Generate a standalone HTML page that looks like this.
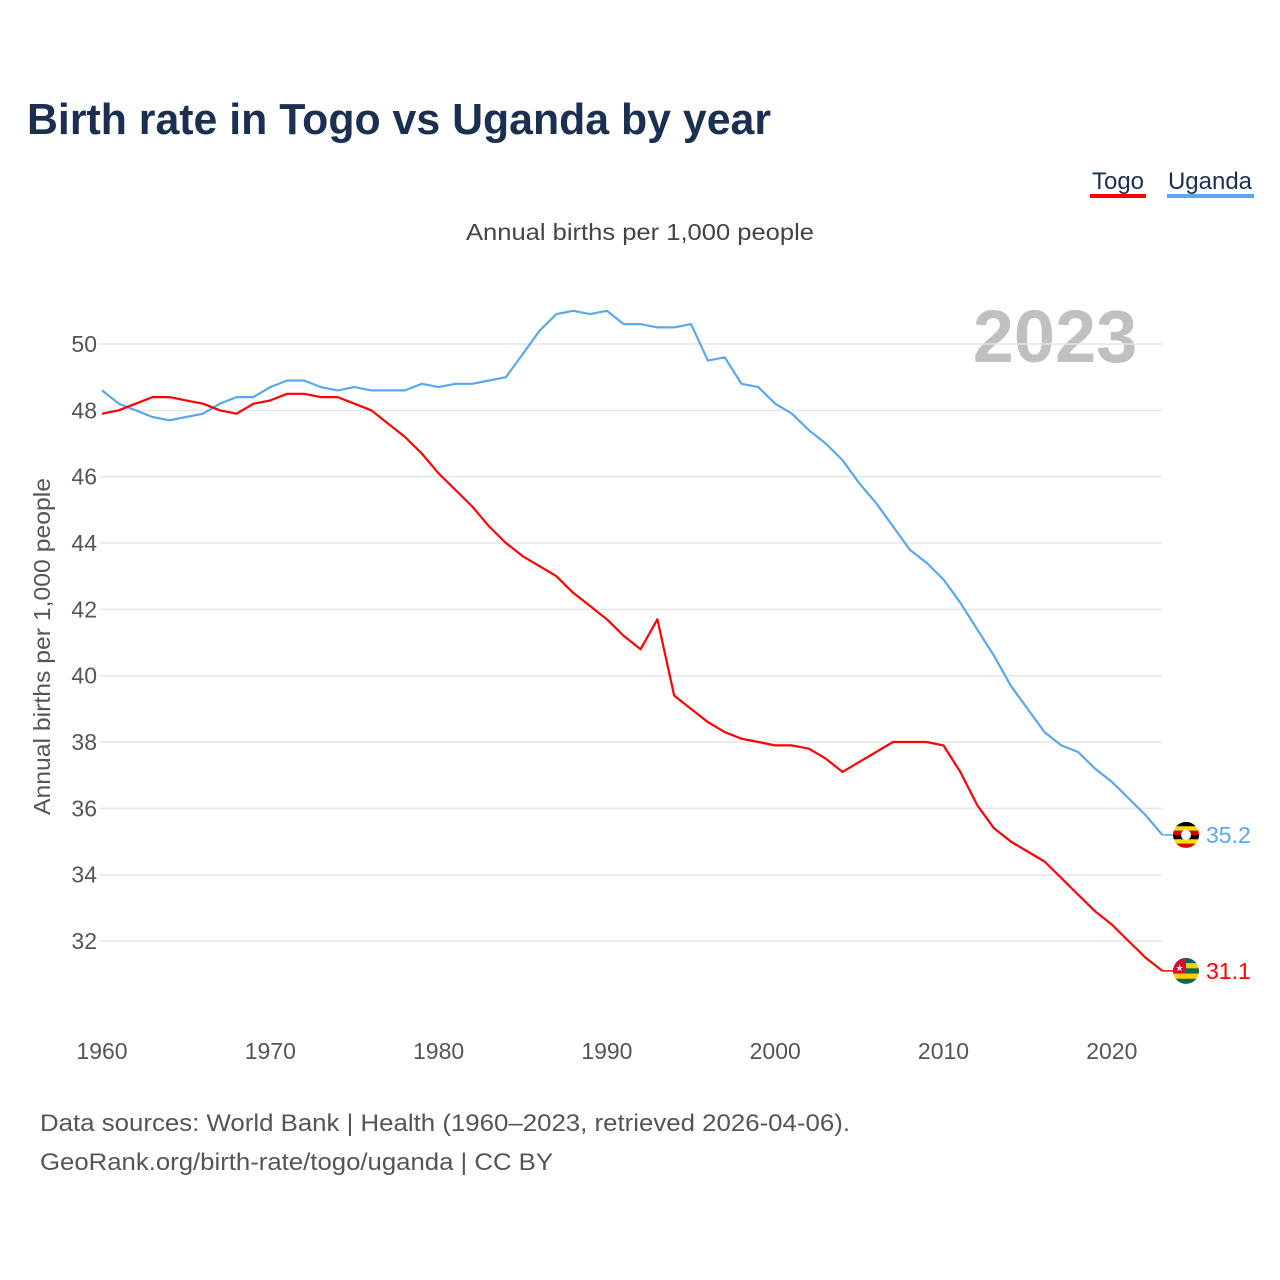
<!DOCTYPE html>
<html><head><meta charset="utf-8">
<style>
body{margin:0;background:#fff;font-family:"Liberation Sans",sans-serif;}
#wrap{position:relative;width:1280px;height:1280px;overflow:hidden;}
</style></head>
<body>
<div id="wrap">
<svg id="chart" width="1280" height="1280">
<text x="27" y="134" font-size="44" font-weight="bold" fill="#1b3050" textLength="744" lengthAdjust="spacingAndGlyphs">Birth rate in Togo vs Uganda by year</text>
<g>
<text x="1118" y="189" font-size="24" fill="#1b3050" text-anchor="middle">Togo</text>
<rect x="1090" y="194" width="56" height="4" fill="#ff0000"/>
<text x="1210" y="189" font-size="24" fill="#1b3050" text-anchor="middle">Uganda</text>
<rect x="1167" y="194" width="87" height="4" fill="#5ba7ee"/>
</g>
<text x="466" y="240" font-size="23" fill="#444" textLength="348" lengthAdjust="spacingAndGlyphs">Annual births per 1,000 people</text>
<text x="1055" y="362" font-size="74" font-weight="bold" fill="#c0c0c0" text-anchor="middle">2023</text>
<text transform="translate(50,815) rotate(-90)" font-size="23" fill="#555" textLength="337" lengthAdjust="spacingAndGlyphs">Annual births per 1,000 people</text>
<g id="grid"></g><g id="lines"></g><g id="ends"></g>
<text x="40" y="1131" font-size="24" fill="#555" textLength="810" lengthAdjust="spacingAndGlyphs">Data sources: World Bank | Health (1960–2023, retrieved 2026-04-06).</text>
<text x="40" y="1170" font-size="24" fill="#555" textLength="513" lengthAdjust="spacingAndGlyphs">GeoRank.org/birth-rate/togo/uganda | CC BY</text>
</svg>
</div>
<script>
const years=[];for(let y=1960;y<=2023;y++)years.push(y);
const togo=[47.9,48.0,48.2,48.4,48.4,48.3,48.2,48.0,47.9,48.2,48.3,48.5,48.5,48.4,48.4,48.2,48.0,47.6,47.2,46.7,46.1,45.6,45.1,44.5,44.0,43.6,43.3,43.0,42.5,42.1,41.7,41.2,40.8,41.7,39.4,39.0,38.6,38.3,38.1,38.0,37.9,37.9,37.8,37.5,37.1,37.4,37.7,38.0,38.0,38.0,37.9,37.1,36.1,35.4,35.0,34.7,34.4,33.9,33.4,32.9,32.5,32.0,31.5,31.1];
const uganda=[48.6,48.2,48.0,47.8,47.7,47.8,47.9,48.2,48.4,48.4,48.7,48.9,48.9,48.7,48.6,48.7,48.6,48.6,48.6,48.8,48.7,48.8,48.8,48.9,49.0,49.7,50.4,50.9,51.0,50.9,51.0,50.6,50.6,50.5,50.5,50.6,49.5,49.6,48.8,48.7,48.2,47.9,47.4,47.0,46.5,45.8,45.2,44.5,43.8,43.4,42.9,42.2,41.4,40.6,39.7,39.0,38.3,37.9,37.7,37.2,36.8,36.3,35.8,35.2];
const yTicks=[32,34,36,38,40,42,44,46,48,50];
const xTicks=[1960,1970,1980,1990,2000,2010,2020];
const X=y=>102+(y-1960)*16.83;
const Y=v=>344+(50-v)*33.17;
const NS="http://www.w3.org/2000/svg";
function mk(tag,attrs,parent,txt){const e=document.createElementNS(NS,tag);for(const k in attrs)e.setAttribute(k,attrs[k]);if(txt!==undefined)e.textContent=txt;parent.appendChild(e);return e;}
const grid=document.getElementById('grid'),lines=document.getElementById('lines'),ends=document.getElementById('ends');
yTicks.forEach(v=>{
 const l=mk('line',{x1:100,x2:1162,y1:Y(v),y2:Y(v),stroke:'#e6e6e6','stroke-width':1.5},grid);
 
 
 const t=mk('text',{x:97,y:Y(v)+8,'font-size':23,fill:'#555','text-anchor':'end'},grid,String(v));
 
 
});
xTicks.forEach(yr=>{
 const t=mk('text',{x:X(yr),y:1059,'font-size':23,fill:'#555','text-anchor':'middle'},grid,String(yr));
 
 
});
function series(vals,color,name){
 const d=vals.map((v,i)=>(i?'L':'M')+X(years[i]).toFixed(1)+' '+Y(v).toFixed(1)).join(' ');
 const p=mk('path',{d:d,fill:'none',stroke:color,'stroke-width':2.2,'stroke-linejoin':'round'},lines);
 
 
 const last=vals[vals.length-1],ly=Y(last);
 mk('line',{x1:X(2023),x2:1174,y1:ly,y2:ly,stroke:color,'stroke-width':1.5},ends);
 const g=mk('g',{},ends);
 
 
 const cp=mk('clipPath',{id:'c'+name},g);mk('circle',{cx:1186,cy:ly,r:13},cp);
 const cols=name==='uganda'?['#000','#fcdc04','#d90000','#000','#fcdc04','#d90000']:['#006a4e','#ffce00','#006a4e','#ffce00','#006a4e'];
 const h=26/cols.length;
 cols.forEach((c,i)=>mk('rect',{x:1173,y:ly-13+i*h,width:26,height:h+0.5,fill:c,'clip-path':'url(#c'+name+')'},g));
 if(name==='uganda')mk('circle',{cx:1186,cy:ly,r:5,fill:'#fff'},g);
 else{mk('rect',{x:1173,y:ly-13,width:13,height:15.6,fill:'#d21034','clip-path':'url(#c'+name+')'},g);mk('text',{x:1179.5,y:ly+0,'font-size':9,fill:'#fff','text-anchor':'middle'},g,'★');}
 const t=mk('text',{x:1206,y:ly+8,'font-size':23,fill:color},ends,last.toFixed(1));
 
 
}
series(uganda,'#5ba7ee','uganda');
series(togo,'#ff0000','togo');
</script>
</body></html>
